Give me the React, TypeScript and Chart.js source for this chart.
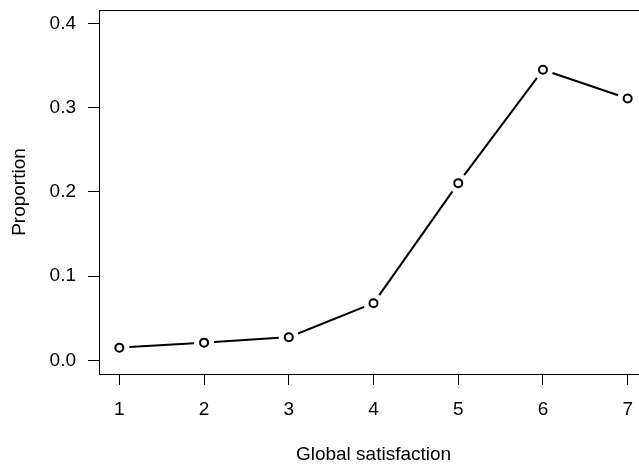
import React, { useEffect, useRef } from "react";
import { Chart, registerables } from "chart.js";

Chart.register(...registerables);

const categories = [1, 2, 3, 4, 5, 6, 7];
const proportions = [0.0152, 0.0212, 0.0277, 0.068, 0.2105, 0.345, 0.311];
const xTickValues = [1, 2, 3, 4, 5, 6, 7];
const yTickValues = [0, 0.1, 0.2, 0.3, 0.4];
const xTitle = "Global satisfaction";
const yTitle = "Proportion";

const FONT = "'Liberation Sans', Arial, Helvetica, sans-serif";
const FONT_SIZE = 19;
const CANVAS_W = 660;
const CANVAS_H = 466;

const boxPlugin = {
  id: "rbox",
  afterDraw(chart: any) {
    const { ctx, chartArea } = chart;
    ctx.save();
    ctx.strokeStyle = "#000";
    ctx.lineWidth = 1;
    ctx.strokeRect(
      Math.round(chartArea.left) + 0.5,
      Math.round(chartArea.top) + 0.5,
      Math.round(chartArea.right - chartArea.left),
      Math.round(chartArea.bottom - chartArea.top)
    );
    ctx.restore();
  },
};

const gapLinePlugin = {
  id: "gapLine",
  beforeDatasetsDraw(chart: any) {
    const meta = chart.getDatasetMeta(0);
    const pts = meta.data;
    const ctx = chart.ctx;
    const gap = 10;
    ctx.save();
    ctx.strokeStyle = "#000";
    ctx.lineWidth = 2;
    ctx.lineCap = "butt";
    for (let i = 0; i < pts.length - 1; i++) {
      const a = pts[i];
      const b = pts[i + 1];
      const dx = b.x - a.x;
      const dy = b.y - a.y;
      const d = Math.sqrt(dx * dx + dy * dy);
      if (d <= 2 * gap) continue;
      const ux = dx / d;
      const uy = dy / d;
      ctx.beginPath();
      ctx.moveTo(a.x + ux * gap, a.y + uy * gap);
      ctx.lineTo(b.x - ux * gap, b.y - uy * gap);
      ctx.stroke();
    }
    ctx.restore();
  },
};

export default function App() {
  const ref = useRef<HTMLCanvasElement | null>(null);

  useEffect(() => {
    if (!ref.current) return;
    const chart = new Chart(ref.current, {
      type: "scatter",
      data: {
        datasets: [
          {
            data: categories.map((c, i) => ({ x: c, y: proportions[i] })),
            showLine: false,
            pointRadius: 4,
            pointBorderWidth: 2,
            pointBackgroundColor: "#fff",
            pointBorderColor: "#000",
          },
        ],
      },
      options: {
        animation: false,
        responsive: false,
        events: [],
        layout: { padding: { left: 0, top: 10, right: CANVAS_W - 648, bottom: 0 } },
        plugins: { legend: { display: false }, tooltip: { enabled: false } },
        scales: {
          x: {
            type: "linear",
            min: 0.76,
            max: 7.24,
            afterBuildTicks: (s: any) => {
              s.ticks = xTickValues.map((v) => ({ value: v }));
            },
            afterFit: (s: any) => {
              s.height = CANVAS_H - 374;
              s.paddingLeft = 0;
              s.paddingRight = 0;
              s.paddingTop = 0;
              s.paddingBottom = 0;
            },
            border: { display: false },
            grid: {
              drawOnChartArea: false,
              drawTicks: true,
              tickLength: 11,
              color: "#000",
              lineWidth: 1,
            },
            ticks: {
              color: "#000",
              padding: 13,
              maxRotation: 0,
              autoSkip: false,
              font: { family: FONT, size: FONT_SIZE },
              callback: (v: any) => String(v),
            },
            title: {
              display: true,
              text: xTitle,
              color: "#000",
              font: { family: FONT, size: FONT_SIZE },
              padding: { top: 0, bottom: 0 },
            },
          },
          y: {
            type: "linear",
            min: -0.016,
            max: 0.416,
            afterBuildTicks: (s: any) => {
              s.ticks = yTickValues.map((v) => ({ value: v }));
            },
            afterFit: (s: any) => {
              s.width = 99;
              s.paddingLeft = 0;
              s.paddingRight = 0;
              s.paddingTop = 0;
              s.paddingBottom = 0;
            },
            border: { display: false },
            grid: {
              drawOnChartArea: false,
              drawTicks: true,
              tickLength: 11,
              color: "#000",
              lineWidth: 1,
            },
            ticks: {
              color: "#000",
              padding: 12,
              autoSkip: false,
              font: { family: FONT, size: FONT_SIZE },
              callback: (v: any) => Number(v).toFixed(1),
            },
            title: {
              display: true,
              text: yTitle,
              color: "#000",
              font: { family: FONT, size: FONT_SIZE },
              padding: { top: 8, bottom: 0 },
            },
          },
        },
      },
      plugins: [gapLinePlugin, boxPlugin],
    } as any);
    return () => chart.destroy();
  }, []);

  return (
    <div
      style={{
        position: "fixed",
        left: 0,
        top: 0,
        width: 639,
        height: 466,
        overflow: "hidden",
        background: "#fff",
      }}
    >
      <canvas ref={ref} width={CANVAS_W} height={CANVAS_H} style={{ display: "block" }} />
    </div>
  );
}
